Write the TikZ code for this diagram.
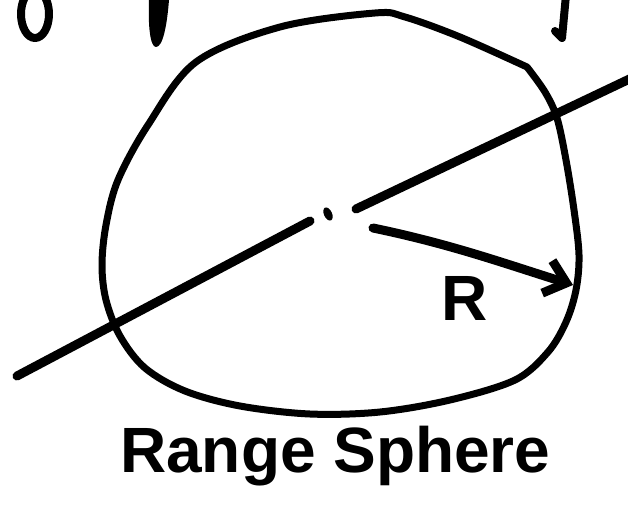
\documentclass[tikz,border=0pt]{standalone}
\usepackage{fontspec}
\setmainfont{Liberation Sans}
\usepackage{tikz}
\usetikzlibrary{arrows.meta,shapes,positioning}

\begin{document}
\begin{tikzpicture}[x=1pt,y=-1pt,line cap=round,line join=round]
		\tikzstyle{rim}=[line width=7pt,draw=black]
		\tikzstyle{axis_line}=[line width=9pt,draw=black]
		\tikzstyle{radius_arrow}=[line width=9pt,draw=black,-{Straight Barb[length=20pt,width=34pt]}]
		\tikzstyle{hand}=[inner sep=0pt,font=\fontsize{64}{70}\selectfont\bfseries]
		\tikzstyle{centre_dot}=[ellipse,fill=black,inner sep=0pt,minimum width=8pt,minimum height=14pt]

		\useasboundingbox (0,0) rectangle (628,516);
		\clip (0,0) rectangle (628,516);

		% fragments cut off at the top edge
		\draw[line width=8pt] (35,14) ellipse [x radius=14, y radius=24];
		\fill (149,0) -- (169,0) .. controls (167,25) and (163,47) .. (156,47) .. controls (150,47) and (148,25) .. (149,0) -- cycle;
		\draw[line width=8pt] (566,-5) -- (562,38) -- (555,31);

		% the sphere
		\draw[rim] plot[smooth,tension=0.55] coordinates {(527,67) (545,92) (557,118) (566,160) (574,210) (579,255) (576,290) (566,322) (548,352) (515,380) (450,400) (380,412) (310,414) (240,406) (185,391) (145,368) (120,336) (106,300) (102,265) (106,225) (118,180) (148,125) (196,62) (280,27) (375,13) (405,17) (460,37) (527,67)};

		\node[centre_dot,rotate=25] (centre) at (328,214) {};

		\coordinate (line_left) at (17,376);
		\coordinate (line_gap_a) at (310,221);
		\coordinate (line_gap_b) at (356,209);
		\coordinate (line_right) at (640,74);
		\draw[axis_line] (line_left) -- (line_gap_a);
		\draw[axis_line] (line_gap_b) -- (line_right);

		\coordinate (arrow_start) at (373,228);
		\coordinate (rim_point) at (573,285);
		\draw[radius_arrow] (arrow_start) .. controls (450,244) and (500,262) .. (rim_point);

		\node[hand,anchor=base west] (label_r) at (441,320) {R};
		\node[hand,anchor=base west] (label_sphere) at (120,472) {Range Sphere};
	\end{tikzpicture}
\end{document}
